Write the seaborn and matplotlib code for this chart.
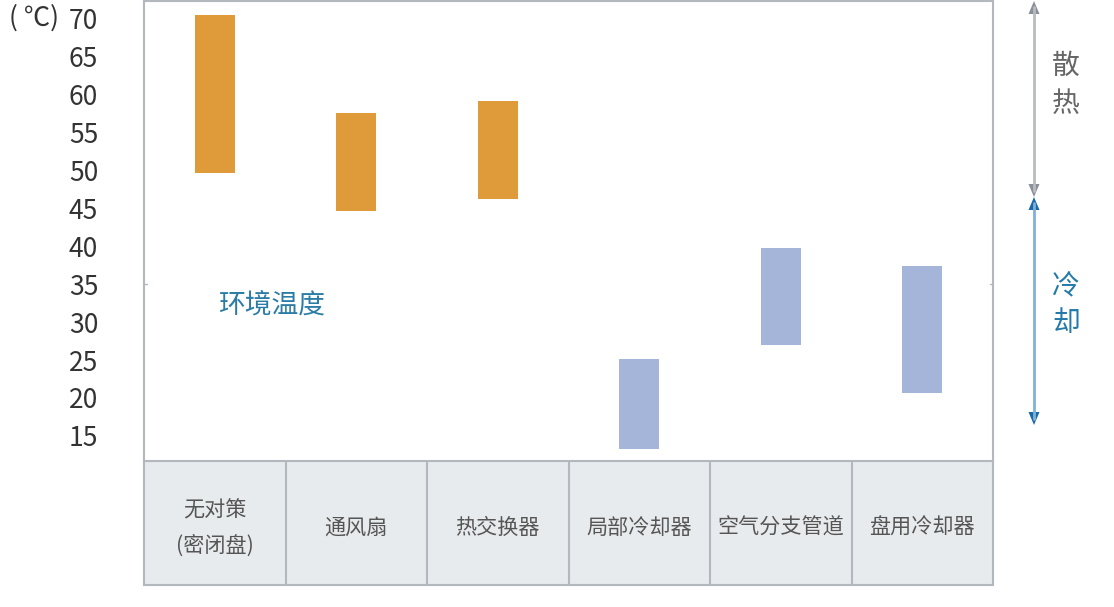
import matplotlib
matplotlib.use("Agg")
import matplotlib.pyplot as plt
import seaborn as sns
import pandas as pd
from matplotlib.patches import Polygon
from matplotlib.lines import Line2D

# ---- data ----
categories = ["无对策\n(密闭盘)", "通风扇", "热交换器", "局部冷却器", "空气分支管道", "盘用冷却器"]
temp_low = [49.6, 44.6, 46.2, 13.3, 27.0, 20.7]
temp_high = [70.4, 57.5, 59.1, 25.1, 39.7, 37.4]
kind = ["散热", "散热", "散热", "冷却", "冷却", "冷却"]
y_ticks = [70, 65, 60, 55, 50, 45, 40, 35, 30, 25, 20, 15]

ORANGE = "#df9a39"
BLUE = "#a5b4d9"
GRID = "#b3b8bf"
TABLE_BG = "#e8ebee"

sns.set_theme(style="white")
plt.rcParams["font.family"] = ["Noto Sans CJK SC", "DejaVu Sans"]

W, H = 1114, 607
fig = plt.figure(figsize=(W / 100, H / 100), dpi=100)

def fx(px):
    return px / W

def fy(py):
    return 1 - py / H

# main axes: x 144..993, y 1..461
ax = fig.add_axes([fx(144), fy(461), fx(993) - fx(144), fy(1) - fy(461)])

df = pd.DataFrame({
    "cat": categories,
    "span": [h - l for h, l in zip(temp_high, temp_low)],
    "low": temp_low,
    "kind": kind,
})
palette = {c: (ORANGE if k == "散热" else BLUE) for c, k in zip(categories, kind)}
sns.barplot(data=df, x="cat", y="span", hue="cat", palette=palette, order=categories,
            hue_order=categories, width=0.283, legend=False, ax=ax, saturation=1)
for patch, low in zip(ax.patches, temp_low):
    patch.set_y(low)
    patch.set_linewidth(0)

ax.set_xlim(-0.5, len(categories) - 0.5)
ax.set_ylim(11.71, 72.24)
ax.set_yticks(y_ticks)
ax.set_yticklabels([str(t) for t in y_ticks])
# pad in points: 46 px -> ~33 pt
ax.tick_params(axis="y", length=0, pad=33, labelsize=19, labelcolor="#333333")
for lab in ax.get_yticklabels():
    lab.set_horizontalalignment("right")
ax.set_xticks([])
ax.set_xlabel("")
ax.set_ylabel("")
for s in ax.spines.values():
    s.set_color(GRID)
    s.set_linewidth(1.5)
    s.set_visible(True)
ax.spines["bottom"].set_visible(False)

# small tick marks at 35 on both sides
ax.plot([-0.5, -0.48], [35, 35], color=GRID, lw=1, clip_on=False)
ax.plot([5.48, 5.5], [35, 35], color=GRID, lw=1, clip_on=False)

ax.text(0.4, 32.1, "环境温度", color="#2a7ca6", fontsize=19.3, ha="center", va="center")

fig.text(fx(34), fy(18), "( ℃)", fontsize=19, color="#333333", ha="center", va="center")

# table axes: y 461..585
tax = fig.add_axes([fx(144), fy(585), fx(993) - fx(144), fy(461) - fy(585)])
tax.set_facecolor(TABLE_BG)
tax.set_xlim(-0.5, len(categories) - 0.5)
tax.set_ylim(0, 1)
tax.set_xticks([])
tax.set_yticks([])
for s in tax.spines.values():
    s.set_color(GRID)
    s.set_linewidth(1.5)
    s.set_visible(True)
for i in range(1, len(categories)):
    tax.axvline(i - 0.5, color=GRID, lw=1.5)
for i, c in enumerate(categories):
    tax.text(i, 0.46, c, ha="center", va="center", fontsize=15.2, color="#555555",
             linespacing=1.75)

# right side arrows (overlay in pixel coords)
oax = fig.add_axes([0, 0, 1, 1])
oax.set_xlim(0, W)
oax.set_ylim(H, 0)
oax.axis("off")
oax.patch.set_alpha(0)

ax_x = 1034
def arrow(y0, y1, line_c, head_c):
    oax.add_line(Line2D([ax_x, ax_x], [y0 + 6, y1 - 6], color=line_c, lw=2))
    hw, hl = 5.5, 13
    oax.add_patch(Polygon([[ax_x, y0], [ax_x - hw, y0 + hl], [ax_x + hw, y0 + hl]],
                          closed=True, color=head_c, lw=0))
    oax.add_patch(Polygon([[ax_x, y1], [ax_x - hw, y1 - hl], [ax_x + hw, y1 - hl]],
                          closed=True, color=head_c, lw=0))

arrow(1, 197, "#b8bcc2", "#8a9099")
arrow(197, 425, "#7fb1d8", "#1868aa")

oax.text(1066, 66, "散", fontsize=20, color="#666666", ha="center", va="center")
oax.text(1066, 104, "热", fontsize=20, color="#666666", ha="center", va="center")
oax.text(1066, 285, "冷", fontsize=20, color="#2379a8", ha="center", va="center")
oax.text(1066, 323, "却", fontsize=20, color="#2379a8", ha="center", va="center")

fig.savefig("out.png", dpi=100, facecolor="white")
